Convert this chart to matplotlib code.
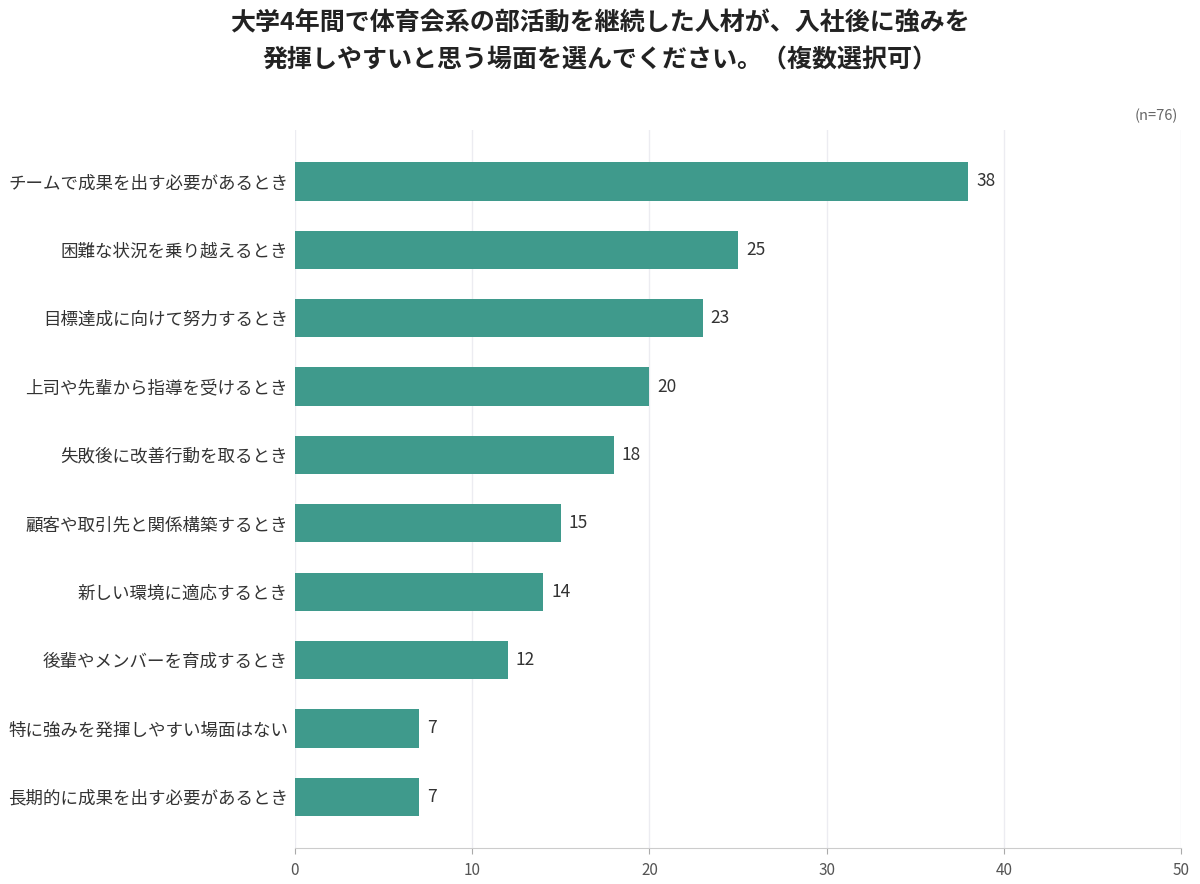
import matplotlib
matplotlib.use("Agg")
import matplotlib.pyplot as plt

plt.rcParams['font.family'] = ['Noto Sans CJK JP', 'DejaVu Sans']

labels = ["チームで成果を出す必要があるとき", "困難な状況を乗り越えるとき", "目標達成に向けて努力するとき",
          "上司や先輩から指導を受けるとき", "失敗後に改善行動を取るとき", "顧客や取引先と関係構築するとき",
          "新しい環境に適応するとき", "後輩やメンバーを育成するとき", "特に強みを発揮しやすい場面はない",
          "長期的に成果を出す必要があるとき"]
values = [38, 25, 23, 20, 18, 15, 14, 12, 7, 7]
ticks = [0, 10, 20, 30, 40, 50]

fig = plt.figure(figsize=(12, 8.84), dpi=100)
ax = fig.add_axes([0.2458, 0.0407, 0.7384, 0.812])

y = list(range(len(values)))
ax.barh(y, values, height=0.56, color="#3f9a8c", zorder=3)
for yi, v in zip(y, values):
    ax.text(v + 0.45, yi, str(v), va="center", ha="left", fontsize=12.5, color="#333333")

ax.set_ylim(len(values) - 0.25, -0.75)
ax.set_xlim(0, 50)
ax.set_yticks(y)
ax.set_yticklabels(labels, fontsize=12.6, color="#333333")
ax.set_xticks(ticks)
ax.set_xticklabels([str(t) for t in ticks], fontsize=11, color="#555555")
ax.tick_params(axis="y", length=0, pad=5)
ax.tick_params(axis="x", length=4, color="#aaaaaa", pad=6)
ax.grid(axis="x", color="#ececf1", linewidth=1, zorder=0)
for s in ["top", "right", "left"]:
    ax.spines[s].set_visible(False)
ax.spines["bottom"].set_color("#cccccc")

fig.text(0.5, 0.987, "大学4年間で体育会系の部活動を継続した人材が、入社後に強みを\n発揮しやすいと思う場面を選んでください。（複数選択可）",
         ha="center", va="top", fontsize=18, fontweight="bold", color="#222222", linespacing=1.65)
fig.text(0.982, 0.869, "(n=76)", ha="right", va="center", fontsize=10.5, color="#666666")

fig.savefig("out.png", dpi=100, facecolor="white")
